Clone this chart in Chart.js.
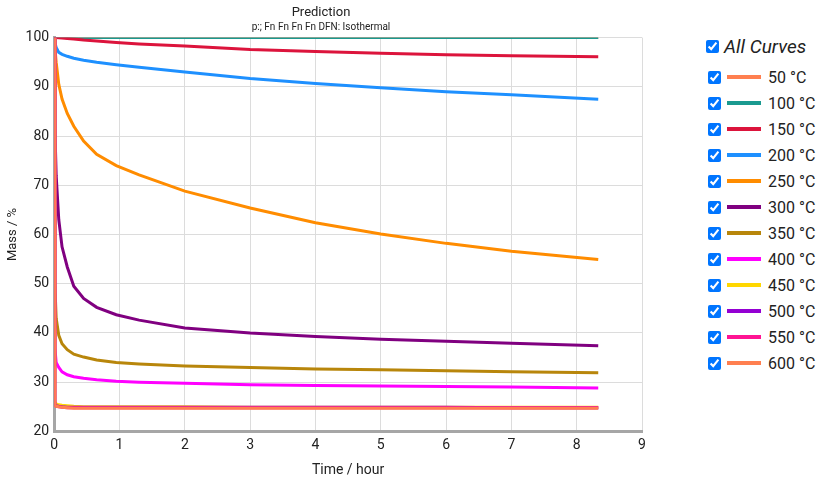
<!DOCTYPE html>
<html>
<head>
<meta charset="utf-8">
<script src="https://cdn.jsdelivr.net/npm/chart.js@4.4.1/dist/chart.umd.min.js"></script>
<style>
  body { margin: 0; background: #fff; font-family: Roboto, sans-serif; }
  #wrap { position: relative; width: 823px; height: 481px; }
  #chartBox { position: absolute; left: 0; top: 0; width: 700px; height: 481px; }
  #legend { position: absolute; left: 704px; top: 35px; color: #222; }
  #legend label { display: flex; align-items: center; height: 26px; }
  #legend input { margin: 0 6px 0 4px; width: 13px; height: 13px; }
  #legend .all { font-style: italic; font-size: 19px; height: 22px; margin-bottom: 7px; }
  #legend .all input { margin-left: 2px; margin-right: 5px; }
  #legend .swatch { display: inline-block; width: 34px; height: 4px; margin-right: 7px; }
  #legend .name { font-size: 16px; }
</style>
</head>
<body>
<div id="wrap">
  <div id="chartBox"><canvas id="myChart"></canvas></div>
  <div id="legend"></div>
</div>
<script>
const hours = [0, 0.01, 0.03, 0.07, 0.12, 0.2, 0.3, 0.45, 0.65, 0.95, 1.3, 2, 3, 4, 5, 6, 7, 8.33];

const names = ["50 °C", "100 °C", "150 °C", "200 °C", "250 °C", "300 °C",
  "350 °C", "400 °C", "450 °C", "500 °C", "550 °C", "600 °C"];
const colors = ["#ff7f50", "#1a9a90", "#dc143c", "#1e90ff", "#ff8c00", "#800080",
  "#b8860b", "#ff00ff", "#ffd700", "#9400d3", "#ff1493", "#ff7f50"];

const mass50 = [100, 100, 100, 100, 100, 100, 100, 100, 100, 100, 100, 100, 100, 100, 100, 100, 100, 100];
const mass100 = [100, 100, 100, 100, 100, 100, 100, 100, 100, 100, 100, 100, 100, 100, 100, 100, 100, 100];
const mass150 = [100, 100, 100, 99.95, 99.9, 99.8, 99.7, 99.5, 99.3, 99.0, 98.7, 98.3, 97.6, 97.2, 96.8, 96.5, 96.3, 96.1];
const mass200 = [100, 99, 98, 97, 96.6, 96.2, 95.8, 95.4, 95.0, 94.5, 94.0, 93.0, 91.7, 90.7, 89.8, 89.0, 88.4, 87.5];
const mass250 = [100, 98, 95, 90.5, 87.5, 84.6, 82, 79, 76.3, 74, 72.1, 68.8, 65.4, 62.4, 60.1, 58.2, 56.6, 54.9];
const mass300 = [100, 82, 72, 63, 57.5, 53.4, 49.5, 47, 45.2, 43.7, 42.6, 41.0, 40.0, 39.3, 38.7, 38.3, 37.9, 37.4];
const mass350 = [100, 50, 43, 39.5, 37.8, 36.6, 35.7, 35.1, 34.5, 34.0, 33.7, 33.3, 33.0, 32.7, 32.5, 32.3, 32.1, 31.9];
const mass400 = [100, 37, 34, 33, 32.1, 31.5, 31.1, 30.8, 30.5, 30.2, 30.0, 29.8, 29.5, 29.3, 29.2, 29.1, 29.0, 28.8];
const mass450 = [100, 26, 25.6, 25.4, 25.3, 25.2, 25.1, 25.0, 25.0, 25.0, 25.0, 25.0, 24.9, 24.9, 24.9, 24.9, 24.9, 24.9];
const mass500 = [100, 25.4, 25.2, 25.1, 25.0, 24.9, 24.9, 24.9, 24.9, 24.9, 24.9, 24.9, 24.9, 24.9, 24.9, 24.9, 24.8, 24.8];
const mass550 = [100, 25.3, 25.1, 25.0, 24.9, 24.8, 24.8, 24.8, 24.8, 24.8, 24.8, 24.8, 24.8, 24.8, 24.8, 24.8, 24.8, 24.8];
const mass600 = [100, 25.2, 25.1, 25.0, 24.9, 24.8, 24.7, 24.7, 24.7, 24.7, 24.7, 24.7, 24.7, 24.7, 24.7, 24.7, 24.7, 24.7];

const series = [mass50, mass100, mass150, mass200, mass250, mass300,
  mass350, mass400, mass450, mass500, mass550, mass600];

const xTicks = [0, 1, 2, 3, 4, 5, 6, 7, 8, 9];
const yTicks = [20, 30, 40, 50, 60, 70, 80, 90, 100];

Chart.defaults.font.family = "Roboto, sans-serif";
Chart.defaults.color = "#222";

const datasets = series.map((values, i) => ({
  label: names[i],
  data: values.map((v, j) => ({ x: hours[j], y: v })),
  borderColor: colors[i],
  backgroundColor: colors[i],
  borderWidth: 3,
  pointRadius: 0,
  tension: 0,
  clip: 0,
  // later curves sit on top
  order: series.length - i,
}));

const ctx = document.getElementById("myChart").getContext("2d");
const myChart = new Chart(ctx, {
  type: "line",
  data: { datasets: datasets },
  options: {
    responsive: true,
    maintainAspectRatio: false,
    animation: false,
    layout: { padding: { top: 0, right: 58, left: 0, bottom: 2 } },
    plugins: {
      legend: { display: false },
      tooltip: { enabled: false },
      title: {
        display: true,
        text: "Prediction",
        font: { size: 13, weight: "normal" },
        padding: { top: 5, bottom: 0 },
      },
      subtitle: {
        display: true,
        text: "p:; Fn Fn Fn Fn DFN: Isothermal",
        font: { size: 10 },
        padding: { top: 1, bottom: 4 },
      },
    },
    scales: {
      x: {
        type: "linear",
        min: xTicks[0],
        max: xTicks[xTicks.length - 1],
        afterBuildTicks: (axis) => { axis.ticks = xTicks.map((v) => ({ value: v })); },
        ticks: { font: { size: 14 }, padding: 6 },
        grid: { color: "#dcdcdc", drawTicks: false },
        border: { color: "#a6a6a6", width: 3 },
        title: { display: true, text: "Time / hour", font: { size: 14 }, padding: { top: 2, bottom: 0 } },
      },
      y: {
        min: yTicks[0],
        max: yTicks[yTicks.length - 1],
        afterBuildTicks: (axis) => { axis.ticks = yTicks.map((v) => ({ value: v })); },
        ticks: { font: { size: 14 }, padding: 5 },
        grid: { color: "#dcdcdc", drawTicks: false },
        border: { color: "#a6a6a6", width: 3 },
        title: { display: true, text: "Mass / %", font: { size: 13 }, padding: { top: 5, bottom: 0 } },
      },
    },
  },
});

// checkbox legend beside the chart
const legend = document.getElementById("legend");
let html = '<label class="all"><input type="checkbox" checked>All Curves</label>';
names.forEach((name, i) => {
  html += '<label><input type="checkbox" checked><span class="swatch" style="background:' +
    colors[i] + '"></span><span class="name">' + name + "</span></label>";
});
legend.innerHTML = html;
</script>
</body>
</html>
